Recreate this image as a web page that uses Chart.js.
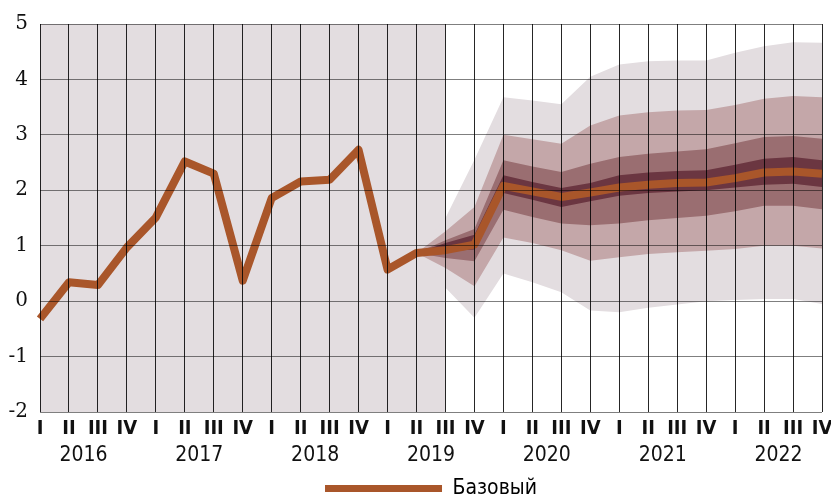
<!DOCTYPE html>
<html>
<head>
<meta charset="utf-8">
<script src="https://cdn.jsdelivr.net/npm/chart.js@4/dist/chart.umd.min.js"></script>
<style>
  html, body { margin: 0; padding: 0; background: #fff; }
  #wrap { width: 831px; height: 498px; }
</style>
</head>
<body>
<div id="wrap"><canvas id="chart" width="831" height="498"></canvas></div>
<script>
// годы и кварталы
var years = ["2016", "2017", "2018", "2019", "2020", "2021", "2022"];
var quarterNames = ["I", "II", "III", "IV"];
var categories = years.flatMap(function () { return quarterNames; });
var yearTickPos = [1.5, 5.5, 9.5, 13.5, 17.5, 21.5, 25.5];
var yTicks = [-2, -1, 0, 1, 2, 3, 4, 5];

// базовый сценарий
var baseline = [-0.32, 0.34, 0.29, 0.97, 1.51, 2.52, 2.3, 0.37, 1.86, 2.16, 2.19, 2.73,
  0.57, 0.87, 0.92, 1.02, 2.08, 1.98, 1.88, 1.96, 2.05, 2.1, 2.13, 2.14, 2.22, 2.32, 2.34, 2.3];

// веер (с 2019 II)
var fanStart = 13;
var historyEnd = 14;
var outerUp  = [0.87, 1.5, 2.55, 3.68, 3.62, 3.55, 4.05, 4.27, 4.33, 4.34, 4.34, 4.48, 4.6, 4.67, 4.66];
var outerLo  = [0.87, 0.24, -0.3, 0.5, 0.34, 0.16, -0.17, -0.2, -0.12, -0.06, 0.0, 0.02, 0.04, 0.04, -0.05];
var midUp    = [0.87, 1.26, 1.7, 3.0, 2.92, 2.84, 3.17, 3.35, 3.41, 3.44, 3.45, 3.54, 3.65, 3.7, 3.68];
var midLo    = [0.87, 0.6, 0.27, 1.15, 1.05, 0.92, 0.73, 0.79, 0.85, 0.88, 0.91, 0.94, 1.0, 1.0, 0.95];
var innerUp  = [0.87, 1.1, 1.3, 2.54, 2.43, 2.33, 2.48, 2.6, 2.66, 2.7, 2.74, 2.85, 2.96, 2.98, 2.93];
var innerLo  = [0.87, 0.78, 0.72, 1.65, 1.52, 1.4, 1.37, 1.4, 1.46, 1.5, 1.54, 1.62, 1.72, 1.72, 1.66];
var coreUp   = [0.87, 1.05, 1.2, 2.27, 2.15, 2.04, 2.13, 2.27, 2.32, 2.35, 2.36, 2.46, 2.57, 2.6, 2.54];
var coreLo   = [0.87, 0.9, 0.93, 1.95, 1.83, 1.7, 1.8, 1.9, 1.95, 1.98, 2.0, 2.05, 2.1, 2.12, 2.06];

var lineColor = "#a9562a";
var narrow = "'Liberation Sans Narrow', 'DejaVu Sans Condensed', sans-serif";

function pad(arr) {
  return Array(fanStart).fill(null).concat(arr);
}

function band(data, color, target) {
  return {
    data: pad(data),
    borderWidth: 0,
    borderColor: "rgba(0,0,0,0)",
    backgroundColor: color,
    pointRadius: 0,
    fill: target === undefined ? false : { target: target },
    tension: 0
  };
}

// фон исторического периода
var historyShade = {
  id: "historyShade",
  beforeDatasetsDraw: function (chart) {
    var a = chart.chartArea;
    var x = chart.scales.x;
    var ctx = chart.ctx;
    var x0 = x.getPixelForValue(0);
    var x1 = x.getPixelForValue(historyEnd);
    ctx.save();
    ctx.fillStyle = "#e3dde0";
    ctx.fillRect(x0, a.top, x1 - x0, a.bottom - a.top);
    ctx.restore();
  }
};

new Chart(document.getElementById("chart"), {
  type: "line",
  data: {
    labels: categories,
    datasets: [
      {
        label: "Базовый",
        data: baseline,
        borderColor: lineColor,
        backgroundColor: lineColor,
        borderWidth: 8,
        borderJoinStyle: "round",
        pointRadius: 0,
        fill: false,
        tension: 0
      },
      band(coreUp, "#6b3641", 2),
      band(coreLo, "#6b3641"),
      band(innerUp, "#9a6e71", 4),
      band(innerLo, "#9a6e71"),
      band(midUp, "#c4a7a9", 6),
      band(midLo, "#c4a7a9"),
      band(outerUp, "#e3dde0", 8),
      band(outerLo, "#e3dde0")
    ]
  },
  options: {
    responsive: false,
    animation: false,
    layout: { padding: { top: 22, right: 9, left: 0, bottom: -11 } },
    plugins: {
      tooltip: { enabled: false },
      legend: {
        position: "bottom",
        fullSize: false,
        labels: {
          boxWidth: 117,
          boxHeight: 7,
          padding: 2,
          color: "#111",
          font: { family: narrow, size: 21, lineHeight: 1 },
          generateLabels: function () {
            return [{ text: "Базовый", fillStyle: lineColor, strokeStyle: lineColor, lineWidth: 0, datasetIndex: 0, hidden: false }];
          }
        }
      }
    },
    scales: {
      x: {
        type: "category",
        offset: false,
        grid: { color: "rgba(0,0,0,0.85)", lineWidth: 1, drawTicks: false, z: 1 },
        border: { display: false },
        ticks: {
          autoSkip: false,
          maxRotation: 0,
          padding: 5,
          color: "#111",
          font: { family: narrow, size: 20, weight: "bold" }
        },
        afterFit: function (s) {
          s.height = 28;
          s.paddingLeft = 0;
          s.paddingRight = 0;
        }
      },
      x2: {
        type: "linear",
        position: "bottom",
        min: 0,
        max: categories.length - 1,
        grid: { display: false, drawTicks: false },
        border: { display: false },
        afterBuildTicks: function (s) {
          s.ticks = yearTickPos.map(function (v) { return { value: v }; });
        },
        ticks: {
          autoSkip: false,
          maxRotation: 0,
          padding: 3,
          color: "#111",
          font: { family: narrow, size: 21 },
          callback: function (v, i) { return years[i]; }
        },
        afterFit: function (s) {
          s.height = 36;
          s.paddingLeft = 0;
          s.paddingRight = 0;
        }
      },
      y: {
        min: -2,
        max: 5,
        afterBuildTicks: function (s) {
          s.ticks = yTicks.map(function (v) { return { value: v }; });
        },
        grid: { color: "rgba(0,0,0,0.5)", lineWidth: 1, drawTicks: false, z: 1 },
        border: { display: false },
        ticks: {
          padding: 12,
          color: "#111",
          font: { family: "'DejaVu Serif', serif", size: 20 }
        },
        afterFit: function (s) { s.width = 40; }
      }
    }
  },
  plugins: [historyShade]
});
</script>
</body>
</html>
